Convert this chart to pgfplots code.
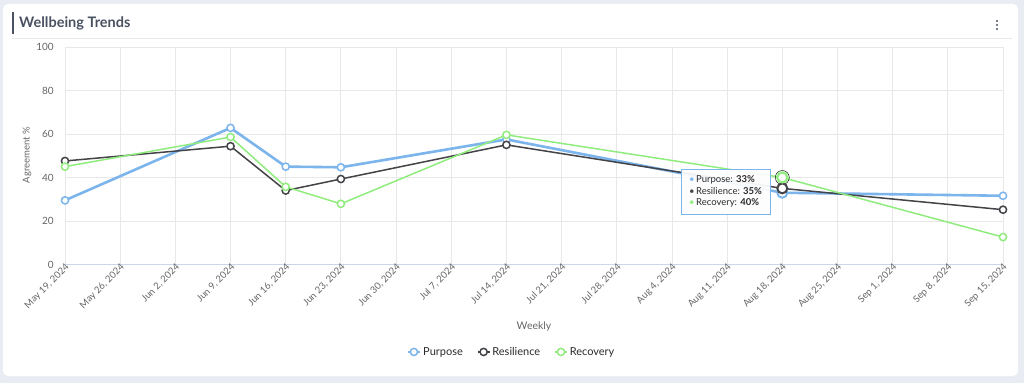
\documentclass[border=0pt]{standalone}
\usepackage{pgfplots}
\pgfplotsset{compat=1.18}
\usepackage{fontspec}
\setmainfont{Lato}
\usetikzlibrary{shadows}
\definecolor{bgc}{HTML}{E9ECF2}
\definecolor{pur}{HTML}{7CB5EC}
\definecolor{res}{HTML}{434348}
\definecolor{rec}{HTML}{90ED7D}
\definecolor{gridc}{HTML}{E8E8E8}
\definecolor{axisc}{HTML}{CCD6EB}
\definecolor{tickc}{HTML}{666666}
\definecolor{titlec}{HTML}{4A5262}
\definecolor{legc}{HTML}{2B2B2B}

\pgfplotstableread{
x y
0 29.5
3 62.8
4 45.0
5 44.7
8 57.5
13 33.0
17 31.6
}\purtab
\pgfplotstableread{
x y
0 47.6
3 54.4
4 34.0
5 39.3
8 55.0
13 35.0
17 25.2
}\restab
\pgfplotstableread{
x y
0 45.0
3 58.6
4 35.7
5 27.9
8 59.6
13 40.0
17 12.6
}\rectab

\begin{document}
\begin{tikzpicture}[x=1pt,y=1pt]
\fill[bgc] (0pt,0pt) rectangle (1024pt,383pt);
\fill[white, rounded corners=5pt] (3pt,7pt) rectangle (1018pt,379pt);
\draw[titlec, line width=2pt] (13pt,349pt) -- (13pt,371pt);
\node[anchor=base west, font=\bfseries\fontsize{14.5}{16}\selectfont, text=titlec, inner sep=0] at (19pt,355.5pt) {Wellbeing Trends};
\draw[gridc, line width=0.8pt] (12pt,344.5pt) -- (1012pt,344.5pt);
\foreach \yy in {354,358,362} \fill[titlec] (997pt,\yy pt) circle (1.2pt);

\begin{axis}[
  at={(65pt,118.5pt)}, anchor=south west, scale only axis,
  width=938pt, height=217.5pt,
  xmin=0, xmax=17, ymin=0, ymax=100,
  xtick={0,...,17},
  xticklabels={{May 19, 2024},{May 26, 2024},{Jun 2, 2024},{Jun 9, 2024},{Jun 16, 2024},{Jun 23, 2024},{Jun 30, 2024},{Jul 7, 2024},{Jul 14, 2024},{Jul 21, 2024},{Jul 28, 2024},{Aug 4, 2024},{Aug 11, 2024},{Aug 18, 2024},{Aug 25, 2024},{Sep 1, 2024},{Sep 8, 2024},{Sep 15, 2024}},
  ytick={0,20,...,100},
  grid=major, major grid style={gridc, line width=0.8pt},
  major tick length=0pt,
  axis x line*=bottom, axis y line*=left,
  x axis line style={draw=axisc, line width=1pt, -},
  y axis line style={draw=none},
  xticklabel style={rotate=45, anchor=east, inner sep=1pt, font=\fontsize{9.5}{10}\selectfont, text=tickc, xshift=2pt, yshift=-3pt},
  yticklabel style={anchor=east, inner sep=0pt, xshift=-11pt, font=\fontsize{10}{11}\selectfont, text=tickc},
  /pgf/number format/assume math mode=true,
  xlabel={Weekly},
  xlabel style={at={(axis description cs:0.5,-0.283)}, anchor=center, font=\fontsize{10.5}{12}\selectfont, text=tickc},
  ylabel={Agreement \%},
  ylabel style={at={(axis description cs:-0.0405,0.503)}, anchor=center, rotate=0, font=\fontsize{9.5}{11}\selectfont, text=tickc},
  legend columns=3,
  legend style={at={(axis description cs:0.476,-0.402)}, anchor=center, draw=none, fill=none,
    font=\fontsize{11}{12}\selectfont, text=legc,
    /tikz/every even column/.append style={column sep=12pt}},
  legend image code/.code={\draw[mark repeat=2,mark phase=2,#1] plot coordinates {(0pt,0pt) (6pt,0pt) (12pt,0pt)};},
  every axis plot/.append style={mark=*, mark size=3.6pt},
]
\addplot[pur, line width=2.6pt, mark options={fill=white, draw=pur, line width=1.5pt}] table {\purtab};
\addlegendentry{Purpose}
\addplot[res, line width=1.5pt, mark options={fill=white, draw=res, line width=1.5pt}] table {\restab};
\addlegendentry{Resilience}
\addplot[rec, line width=1.5pt, mark options={fill=white, draw=rec, line width=1.5pt}] table {\rectab};
\addlegendentry{Recovery}
% hover state
\addplot[forget plot, only marks, mark=*, mark size=7pt, mark options={fill=rec, fill opacity=0.25, draw=none}] coordinates {(13,40)};
\addplot[forget plot, only marks, mark=*, mark size=5pt, mark options={fill=white, draw=pur, line width=2pt}] coordinates {(13,33)};
\addplot[forget plot, only marks, mark=*, mark size=5pt, mark options={fill=white, draw=res, line width=2pt}] coordinates {(13,35)};
\addplot[forget plot, only marks, mark=*, mark size=5pt, mark options={fill=white, draw=rec, line width=2pt}] coordinates {(13,40)};
\end{axis}

\node[draw=pur, line width=0.8pt, fill=white, fill opacity=0.92, text opacity=1, drop shadow={opacity=0.15, shadow xshift=1pt, shadow yshift=-1pt},
  minimum width=89pt, minimum height=45pt, align=left, text=legc, font=\fontsize{9.5}{11.5}\selectfont, inner sep=4pt]
  at (725.5pt,191.5pt) {{\color{pur}\textbullet}\,Purpose: \textbf{33\%}\\{\color{res}\textbullet}\,Resilience: \textbf{35\%}\\{\color{rec}\textbullet}\,Recovery: \textbf{40\%}};
\end{tikzpicture}
\end{document}
